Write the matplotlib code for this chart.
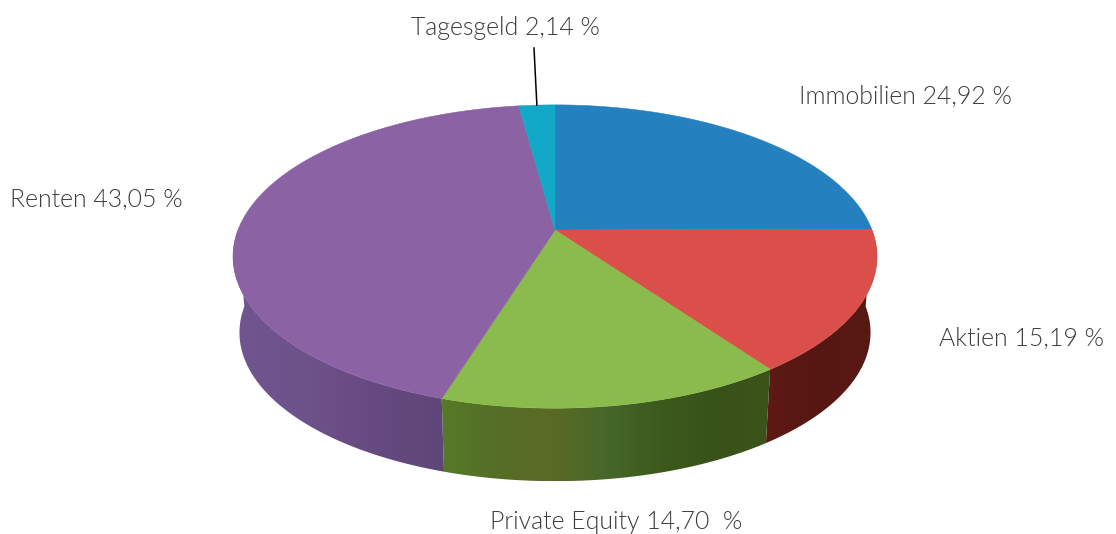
import numpy as np
from matplotlib import pyplot as plt
from matplotlib import font_manager as fm
from matplotlib.colors import to_rgb
from matplotlib.patches import Polygon

#slices, clockwise from 12 o'clock
labels = ['Immobilien 24,92 %', 'Aktien 15,19 %', 'Private Equity 14,70  %', 'Renten 43,05 %', 'Tagesgeld 2,14 %']
values = [24.92, 15.19, 14.70, 43.05, 2.14]
colors = ['#2480BF', '#DB4F4B', '#8ABB4C', '#8B62A3', '#12A9C8']

#side wall shading, left to right for each visible slice
wall_colors = {
    1: ['#5E1A15', '#561612', '#5A1A14'],
    2: ['#567A28', '#556E26', '#5A6A24', '#45682A', '#3C5A1C', '#38521A', '#3A5418'],
    3: ['#70558F', '#6E528A', '#664A80', '#5F4678'],
}

#label positions in pixels
label_x = [799, 939, 490, 10, 411]
label_y = [97, 339, 522, 200, 28]

#pie geometry in pixels
cx, cy = 555, 230
a, b, p = 317, 147, 0.175
drop, shrink = 76, 0.98
ell_cy = 257

def top_edge(t):
    u = np.cos(t)
    v = np.sin(t)
    d = 1 + p * v
    return cx + a * u / d, cy - b * v / d

def bottom_edge(t):
    x, y = top_edge(t)
    return cx + (x - cx) * shrink, ell_cy + (y - ell_cy) * shrink + drop

#pick the real Light cut, weight='light' lands on Hairline
light = [f for f in fm.findSystemFonts() if 'Lato-Light.' in f]
font = fm.FontProperties(fname=light[0]) if light else fm.FontProperties(family='Lato')
font.set_size(17.9)

fig = plt.figure(figsize=(11.16, 5.34), dpi=100)
ax = fig.add_axes([0, 0, 1, 1])
ax.axis('off')

#slice angles
fracs = np.array(values) / sum(values)
edges = np.pi / 2 - 2 * np.pi * np.concatenate([[0], np.cumsum(fracs)])

#side walls: horizontal gradient clipped to the wall outline
for i, stops in wall_colors.items():
    ts = np.linspace(max(edges[i + 1], -np.pi), min(edges[i], 0), 200)
    x1, y1 = top_edge(ts)
    x2, y2 = bottom_edge(ts)
    xs = np.r_[x1, x2[::-1]]
    ys = np.r_[y1, y2[::-1]]
    rgb = np.array([to_rgb(c) for c in stops])
    pos = np.linspace(0, 1, len(stops))
    grid = np.linspace(0, 1, 256)
    grad = np.stack([np.interp(grid, pos, rgb[:, k]) for k in range(3)], axis=-1)[None, :, :]
    im = ax.imshow(grad, extent=[xs.min(), xs.max(), ys.max(), ys.min()], aspect='auto', zorder=2)
    im.set_clip_path(Polygon(np.c_[xs, ys], closed=True, transform=ax.transData))

ax.set_xlim(0, 1116)
ax.set_ylim(534, 0)

#top face
for i in range(len(values)):
    ts = np.linspace(edges[i], edges[i + 1], 200)
    x, y = top_edge(ts)
    ax.fill(np.r_[cx, x], np.r_[cy, y], color=colors[i], lw=0.4, zorder=3)

for i in range(len(values)):
    ax.text(label_x[i], label_y[i], labels[i], fontproperties=font,
            color='#3C3C3C', ha='left', va='center')

#leader line for the small slice
mid = (edges[4] + edges[5]) / 2
lx, ly = top_edge(mid)
ax.plot([534, lx], [48, ly], color='black', lw=1.1, zorder=4)

fig.savefig('out.png', dpi=100)
